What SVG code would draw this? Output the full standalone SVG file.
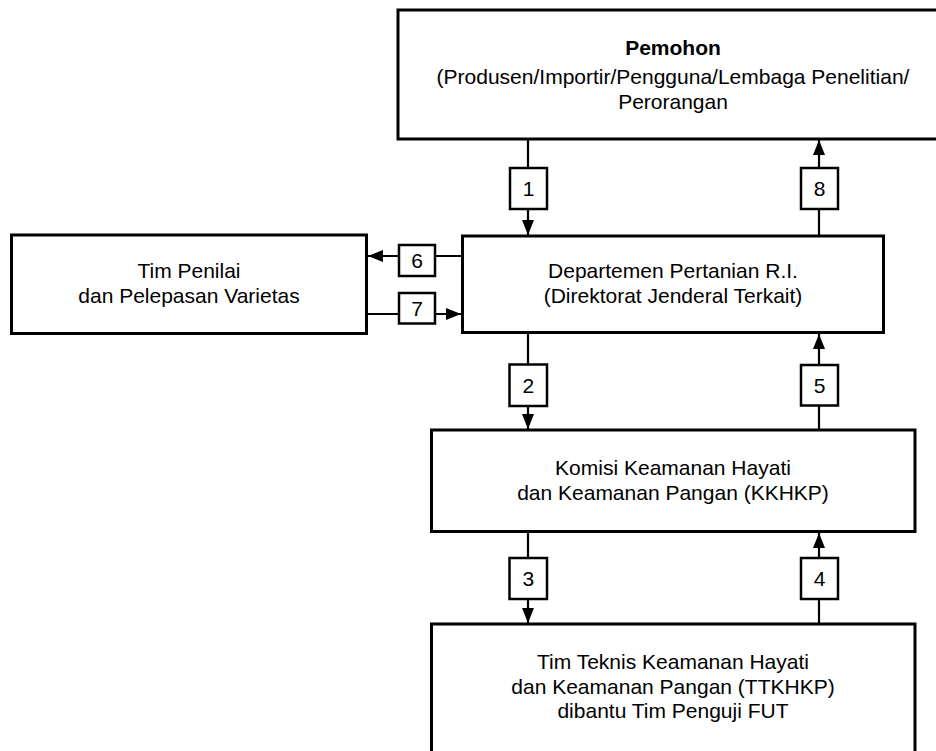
<svg xmlns="http://www.w3.org/2000/svg" width="936" height="751" viewBox="0 0 936 751">
<defs>
<style>
.box{fill:#fff;stroke:#000;stroke-width:3}
.lbl{fill:#fff;stroke:#000;stroke-width:2.5}
.ln{fill:none;stroke:#000;stroke-width:2.2}
text{font-family:"Liberation Sans",Arial,sans-serif;font-size:21px;fill:#000;text-anchor:middle}
.b{font-weight:bold}
</style>
<marker id="ah" markerUnits="userSpaceOnUse" markerWidth="15" markerHeight="12" refX="15" refY="6" orient="auto">
<path d="M0,0 L15,6 L0,12 z" fill="#000"/>
</marker>
</defs>
<rect width="936" height="751" fill="#fff"/>
<g id="connectors">
<line class="ln" x1="528" y1="139" x2="528" y2="235" marker-end="url(#ah)"/>
<line class="ln" x1="819" y1="236" x2="819" y2="140" marker-end="url(#ah)"/>
<line class="ln" x1="528" y1="333" x2="528" y2="429" marker-end="url(#ah)"/>
<line class="ln" x1="819" y1="430" x2="819" y2="334" marker-end="url(#ah)"/>
<line class="ln" x1="528" y1="532" x2="528" y2="623" marker-end="url(#ah)"/>
<line class="ln" x1="819" y1="624" x2="819" y2="533" marker-end="url(#ah)"/>
<line class="ln" x1="462" y1="256" x2="368" y2="256" marker-end="url(#ah)"/>
<line class="ln" x1="367" y1="314" x2="461" y2="314" marker-end="url(#ah)"/>
<g id="l1"><rect class="lbl" x="510" y="168" width="37" height="41"/><text x="528.5" y="196">1</text></g>
<g id="l8"><rect class="lbl" x="801" y="168" width="37" height="41"/><text x="819.5" y="196">8</text></g>
<g id="l2"><rect class="lbl" x="509.5" y="364.5" width="37.5" height="41.5"/><text x="528.3" y="393">2</text></g>
<g id="l5"><rect class="lbl" x="801" y="365" width="37" height="40.5"/><text x="819.5" y="393">5</text></g>
<g id="l3"><rect class="lbl" x="509.5" y="558" width="37.5" height="41"/><text x="528.3" y="586">3</text></g>
<g id="l4"><rect class="lbl" x="801" y="558" width="37" height="41"/><text x="819.5" y="586">4</text></g>
<g id="l6"><rect class="lbl" x="399" y="245" width="36" height="31"/><text x="417" y="268">6</text></g>
<g id="l7"><rect class="lbl" x="399" y="293" width="36" height="30.5"/><text x="417" y="316">7</text></g>
</g>
<g id="pemohon">
<rect class="box" x="398" y="10" width="560" height="129"/>
<text class="b" x="673" y="55">Pemohon</text>
<text x="673" y="84">(Produsen/Importir/Pengguna/Lembaga Penelitian/</text>
<text x="673" y="109">Perorangan</text>
</g>
<g id="deptan">
<rect class="box" x="462.5" y="236" width="421" height="96.5"/>
<text x="673" y="278">Departemen Pertanian R.I.</text>
<text x="673" y="303">(Direktorat Jenderal Terkait)</text>
</g>
<g id="timpenilai">
<rect class="box" x="11.5" y="235" width="355" height="98.5"/>
<text x="189" y="278">Tim Penilai</text>
<text x="189" y="303">dan Pelepasan Varietas</text>
</g>
<g id="kkhkp">
<rect class="box" x="431.5" y="430" width="483.5" height="101.5"/>
<text x="673" y="475">Komisi Keamanan Hayati</text>
<text x="673" y="500">dan Keamanan Pangan (KKHKP)</text>
</g>
<g id="ttkhkp">
<rect class="box" x="431.5" y="624" width="483.5" height="200"/>
<text x="673" y="669">Tim Teknis Keamanan Hayati</text>
<text x="673" y="693.5">dan Keamanan Pangan (TTKHKP)</text>
<text x="673" y="718">dibantu Tim Penguji FUT</text>
</g>
</svg>
